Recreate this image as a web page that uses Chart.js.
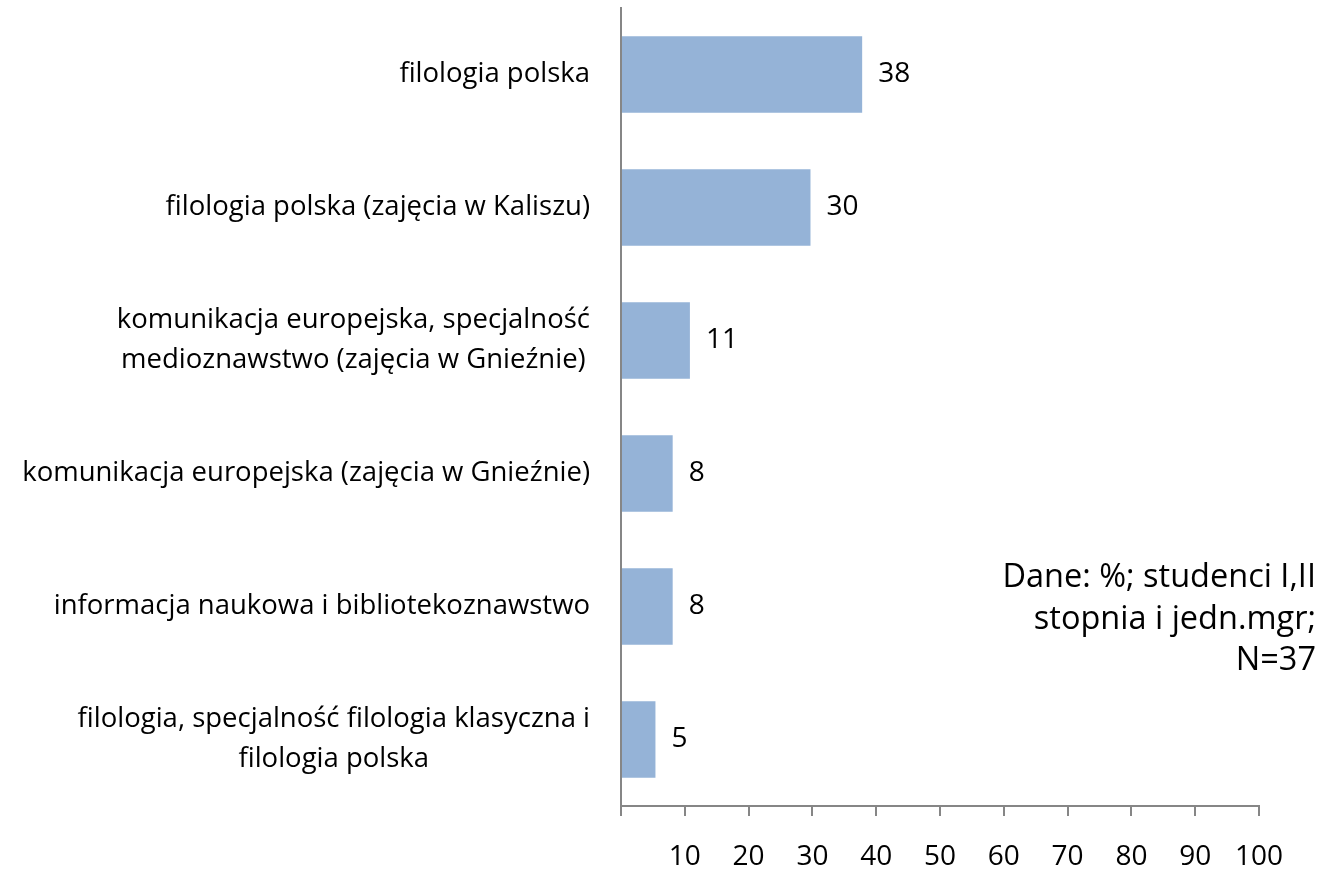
<!DOCTYPE html>
<html>
<head>
<meta charset="utf-8">
<script src="https://cdn.jsdelivr.net/npm/chart.js@4.4.1/dist/chart.umd.min.js"></script>
<style>
  html, body { margin: 0; padding: 0; background: #fff; }
  #wrap { width: 1339px; height: 869px; position: relative; }
</style>
</head>
<body>
<div id="wrap"><canvas id="chart"></canvas></div>
<script>
const categories = [
    ["filologia polska"],
    ["filologia polska (zajęcia w Kaliszu)"],
    ["komunikacja europejska, specjalność", "medioznawstwo (zajęcia w Gnieźnie)"],
    ["komunikacja europejska (zajęcia w Gnieźnie)"],
    ["informacja naukowa i bibliotekoznawstwo"],
    ["filologia, specjalność filologia klasyczna i", "filologia polska"]
];
const values = [37.8, 29.7, 10.8, 8.1, 8.1, 5.4];
const xTicks = [0, 10, 20, 30, 40, 50, 60, 70, 80, 90, 100];
const note = ["Dane: %; studenci I,II", "stopnia i jedn.mgr;", "N=37"];

const FONT = "'Open Sans', sans-serif";
const axisColor = '#868686';

// draws category labels: block right-aligned, lines centered inside it
const catLabels = {
    id: 'catLabels',
    afterDraw(chart) {
        const ctx = chart.ctx;
        const y = chart.scales.y;
        ctx.save();
        ctx.font = "27.5px " + FONT;
        ctx.fillStyle = '#000';
        ctx.textAlign = 'center';
        ctx.textBaseline = 'middle';
        const right = 590;
        const lh = 40;
        categories.forEach(function(lines, i) {
            let maxW = 0;
            lines.forEach(function(l) { maxW = Math.max(maxW, ctx.measureText(l).width); });
            const cx = right - maxW / 2;
            const cy = y.getPixelForValue(i);
            lines.forEach(function(l, j) {
                ctx.fillText(l, cx, cy + (j - (lines.length - 1) / 2) * lh);
            });
        });
        ctx.restore();
    }
};

// value labels at the end of each bar, plus the note on the right
const valueLabels = {
    id: 'valueLabels',
    afterDatasetsDraw(chart) {
        const ctx = chart.ctx;
        const meta = chart.getDatasetMeta(0);
        ctx.save();
        ctx.font = "28px " + FONT;
        ctx.fillStyle = '#000';
        ctx.textAlign = 'left';
        ctx.textBaseline = 'middle';
        meta.data.forEach(function(bar, i) {
            ctx.fillText(Math.round(values[i]), bar.x + 16, bar.y);
        });
        ctx.font = "32.5px " + FONT;
        ctx.textAlign = 'right';
        note.forEach(function(l, j) {
            ctx.fillText(l, 1316, 578 + j * 41.5);
        });
        ctx.restore();
    }
};

const ctx = document.getElementById('chart').getContext('2d');
new Chart(ctx, {
    type: 'bar',
    data: {
        labels: categories.map(function(c) { return c.join(' '); }),
        datasets: [{
            data: values,
            backgroundColor: '#95B3D7',
            borderWidth: 0,
            barPercentage: 0.9,
            categoryPercentage: 0.64
        }]
    },
    options: {
        indexAxis: 'y',
        responsive: true,
        maintainAspectRatio: false,
        animation: false,
        layout: { padding: { left: 621, top: 8, right: 80, bottom: 0 } },
        plugins: {
            legend: { display: false },
            tooltip: { enabled: false }
        },
        scales: {
            x: {
                min: 0,
                max: 100,
                afterBuildTicks: function(scale) {
                    scale.ticks = xTicks.map(function(v) { return { value: v }; });
                },
                afterFit: function(scale) { scale.height = 63; },
                grid: {
                    drawOnChartArea: false,
                    drawTicks: true,
                    tickLength: 10,
                    color: axisColor,
                    lineWidth: 2
                },
                border: { display: true, color: axisColor, width: 2 },
                ticks: {
                    padding: 24,
                    color: '#000',
                    font: { family: FONT, size: 28 },
                    maxRotation: 0,
                    callback: function(v) { return v === 0 ? '' : v; }
                }
            },
            y: {
                afterFit: function(scale) { scale.width = 0; },
                grid: { display: false },
                border: { display: true, color: axisColor, width: 2 },
                ticks: { display: false }
            }
        }
    },
    plugins: [catLabels, valueLabels]
});
</script>
</body>
</html>
